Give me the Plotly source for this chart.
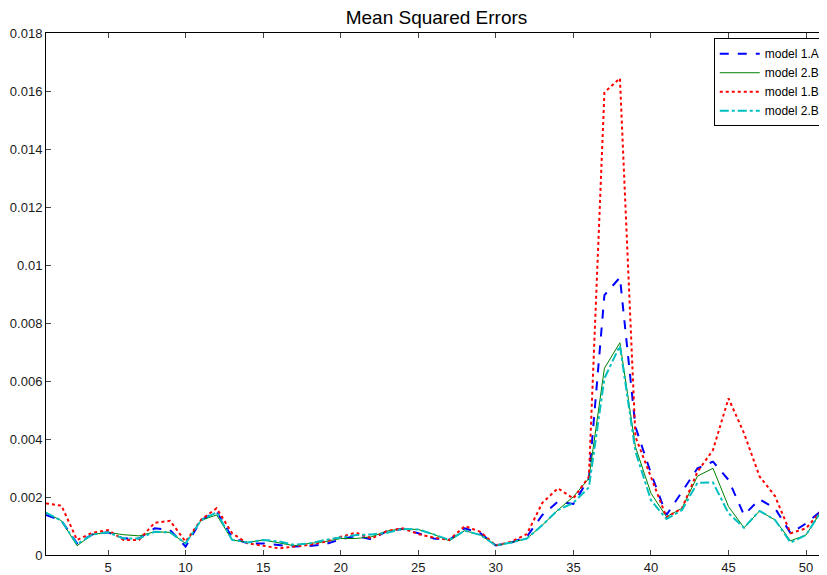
import plotly.graph_objects as go

x_vals = list(range(1, 52))

model_1A = [0.00138, 0.00118, 0.00040, 0.00071, 0.00078, 0.00057, 0.00057, 0.00092, 0.00086, 0.00029,
            0.00120, 0.00150, 0.00060, 0.00040, 0.00040, 0.00035, 0.00029, 0.00031, 0.00037, 0.00054,
            0.00066, 0.00054, 0.00083, 0.00090, 0.00075, 0.00057, 0.00052, 0.00092, 0.00075, 0.00033,
            0.00043, 0.00063, 0.00138, 0.00184, 0.00176, 0.00264, 0.00896, 0.00957, 0.00442, 0.00282,
            0.00138, 0.00218, 0.00299, 0.00322, 0.00259, 0.00138, 0.00192, 0.00161, 0.00075, 0.00109,
            0.00153]

model_2B_solid = [0.00146, 0.00118, 0.00032, 0.00071, 0.00078, 0.00070, 0.00066, 0.00080, 0.00078, 0.00040,
                  0.00120, 0.00138, 0.00052, 0.00043, 0.00052, 0.00043, 0.00032, 0.00040, 0.00046, 0.00057,
                  0.00057, 0.00063, 0.00083, 0.00090, 0.00088, 0.00071, 0.00049, 0.00084, 0.00069, 0.00033,
                  0.00043, 0.00057, 0.00103, 0.00155, 0.00201, 0.00264, 0.00644, 0.00732, 0.00373, 0.00213,
                  0.00132, 0.00161, 0.00272, 0.00299, 0.00167, 0.00094, 0.00152, 0.00121, 0.00049, 0.00069,
                  0.00153]

model_1B = [0.00178, 0.00170, 0.00052, 0.00077, 0.00086, 0.00052, 0.00052, 0.00111, 0.00118, 0.00046,
            0.00122, 0.00161, 0.00075, 0.00040, 0.00032, 0.00023, 0.00029, 0.00035, 0.00046, 0.00063,
            0.00077, 0.00057, 0.00083, 0.00092, 0.00072, 0.00060, 0.00052, 0.00100, 0.00080, 0.00033,
            0.00046, 0.00072, 0.00180, 0.00230, 0.00195, 0.00270, 0.01595, 0.01644, 0.00408, 0.00271,
            0.00130, 0.00161, 0.00287, 0.00362, 0.00540, 0.00420, 0.00271, 0.00203, 0.00075, 0.00092,
            0.00153]

model_2B_dashdot = [0.00146, 0.00118, 0.00037, 0.00071, 0.00078, 0.00057, 0.00057, 0.00080, 0.00078, 0.00040,
                    0.00120, 0.00147, 0.00052, 0.00043, 0.00052, 0.00047, 0.00035, 0.00040, 0.00052, 0.00060,
                    0.00069, 0.00071, 0.00077, 0.00090, 0.00088, 0.00071, 0.00052, 0.00084, 0.00069, 0.00033,
                    0.00043, 0.00057, 0.00103, 0.00155, 0.00180, 0.00233, 0.00609, 0.00722, 0.00357, 0.00189,
                    0.00124, 0.00155, 0.00249, 0.00250, 0.00144, 0.00094, 0.00152, 0.00121, 0.00043, 0.00069,
                    0.00153]

series_names = ["model 1.A", "model 2.B", "model 1.B", "model 2.B"]

y_tickvals = [0, 0.002, 0.004, 0.006, 0.008, 0.010, 0.012, 0.014, 0.016, 0.018]
y_ticktext = ["0", "0.002", "0.004", "0.006", "0.008", "0.01", "0.012", "0.014", "0.016", "0.018"]
x_tickvals = [5, 10, 15, 20, 25, 30, 35, 40, 45, 50]

fig = go.Figure()
fig.add_trace(go.Scatter(x=x_vals, y=model_1A, mode="lines", name=series_names[0],
                         line=dict(color="#0000FF", width=2, dash="dash")))
fig.add_trace(go.Scatter(x=x_vals, y=model_2B_solid, mode="lines", name=series_names[1],
                         line=dict(color="#008000", width=1)))
fig.add_trace(go.Scatter(x=x_vals, y=model_1B, mode="lines", name=series_names[2],
                         line=dict(color="#FF0000", width=2, dash="dot")))
fig.add_trace(go.Scatter(x=x_vals, y=model_2B_dashdot, mode="lines", name=series_names[3],
                         line=dict(color="#00BFBF", width=2, dash="dashdot")))

# The page body has an 8px margin, so the figure is sized 819x567 to fill the 827x575 window.
fig.update_layout(
    width=819, height=567,
    margin=dict(l=38, r=0, t=25, b=20, autoexpand=False),
    paper_bgcolor="white", plot_bgcolor="white",
    font=dict(family="Liberation Sans, Arial, sans-serif", size=13, color="#1a1a1a"),
    title=dict(text="Mean Squared Errors", x=0.5, xanchor="center", xref="paper",
               y=1 - 9 / 567, yanchor="middle",
               font=dict(size=19, color="black")),
    showlegend=True,
    legend=dict(x=0.855, y=0.99, xanchor="left", yanchor="top",
                bgcolor="white", bordercolor="black", borderwidth=1,
                itemwidth=40,
                font=dict(size=12, color="black"), tracegroupgap=0),
)
fig.update_xaxes(range=[1, 51.35], tickvals=x_tickvals, ticks="inside", ticklen=5,
                 showline=True, linecolor="black", linewidth=1, mirror="ticks", automargin=False,
                 showgrid=False, zeroline=False, tickfont=dict(size=13))
fig.update_yaxes(range=[0, 0.018], tickvals=y_tickvals, ticktext=y_ticktext, ticks="inside", ticklen=5,
                 showline=True, linecolor="black", linewidth=1, mirror=False, automargin=False,
                 showgrid=False, zeroline=False, tickfont=dict(size=13))

fig.write_html("out.html")
